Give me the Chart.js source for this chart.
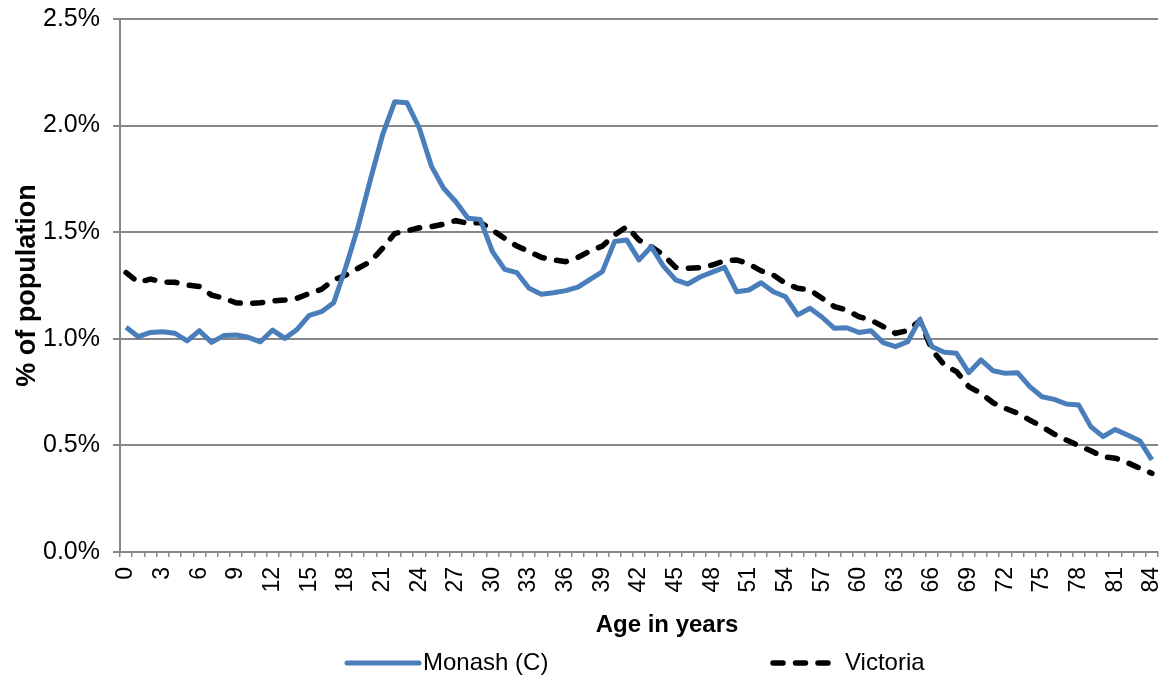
<!DOCTYPE html>
<html>
<head>
<meta charset="utf-8">
<script src="https://cdn.jsdelivr.net/npm/chart.js@4/dist/chart.umd.min.js"></script>
<style>
html,body{margin:0;padding:0;background:#fff;}
#wrap{width:1171px;height:679px;}
</style>
</head>
<body>
<div id="wrap"><canvas id="c" width="1171" height="679"></canvas></div>
<script>
// ---- data ----
const ages = [];
for (let a = 0; a <= 84; a++) ages.push(String(a));

const monash = [
  1.054, 1.010, 1.030, 1.033, 1.026, 0.990, 1.038, 0.983, 1.015, 1.018,
  1.007, 0.986, 1.041, 1.002, 1.044, 1.110, 1.127, 1.169, 1.338, 1.526,
  1.745, 1.956, 2.112, 2.107, 1.990, 1.810, 1.706, 1.643, 1.565, 1.560,
  1.409, 1.326, 1.310, 1.237, 1.209, 1.216, 1.226, 1.242, 1.279, 1.315,
  1.456, 1.463, 1.370, 1.432, 1.341, 1.276, 1.257, 1.290, 1.313, 1.335,
  1.221, 1.229, 1.263, 1.221, 1.197, 1.112, 1.143, 1.101, 1.049, 1.052,
  1.030, 1.038, 0.982, 0.963, 0.986, 1.091, 0.963, 0.937, 0.932, 0.841,
  0.901, 0.850, 0.838, 0.841, 0.776, 0.728, 0.716, 0.694, 0.690, 0.588,
  0.541, 0.575, 0.549, 0.522, 0.432
];

const victoria = [
  1.310, 1.265, 1.280, 1.266, 1.265, 1.252, 1.245, 1.205, 1.190, 1.169,
  1.166, 1.169, 1.177, 1.182, 1.190, 1.213, 1.232, 1.276, 1.299, 1.331,
  1.362, 1.424, 1.494, 1.506, 1.521, 1.526, 1.538, 1.554, 1.542, 1.545,
  1.510, 1.471, 1.435, 1.409, 1.382, 1.370, 1.362, 1.382, 1.412, 1.435,
  1.487, 1.526, 1.463, 1.432, 1.393, 1.335, 1.331, 1.334, 1.346, 1.366,
  1.370, 1.351, 1.319, 1.299, 1.260, 1.237, 1.229, 1.190, 1.151, 1.135,
  1.104, 1.088, 1.057, 1.026, 1.038, 1.085, 0.947, 0.877, 0.846, 0.776,
  0.744, 0.700, 0.674, 0.651, 0.619, 0.588, 0.553, 0.525, 0.499, 0.475,
  0.447, 0.440, 0.419, 0.393, 0.369
];

const seriesNames = ['Monash (C)', 'Victoria'];
const yTicks = [0, 0.5, 1.0, 1.5, 2.0, 2.5];
const xTitle = 'Age in years';
const yTitle = '% of population';

// ---- styling ----
const FONT = '"Liberation Sans", Arial, sans-serif';
const GRID = '#878787';

// custom bottom legend + x-axis title (placed as in the reference)
const legendPlugin = {
  id: 'bottomLegend',
  afterDraw(chart) {
    const ctx = chart.ctx;
    // x-axis title
    ctx.save();
    ctx.fillStyle = '#000';
    ctx.font = 'bold 24px ' + FONT;
    ctx.textAlign = 'center';
    ctx.textBaseline = 'middle';
    ctx.fillText(xTitle, 667, 625);
    ctx.restore();

    const y = 663;
    const items = [
      { x0: 347, x1: 419, tx: 423 },
      { x0: 773, x1: 831, tx: 845 }
    ];
    chart.data.datasets.forEach((ds, i) => {
      const it = items[i];
      ctx.save();
      ctx.strokeStyle = ds.borderColor;
      ctx.lineWidth = ds.borderWidth;
      ctx.lineCap = 'round';
      ctx.setLineDash(ds.borderDash || []);
      ctx.beginPath();
      ctx.moveTo(it.x0, y);
      ctx.lineTo(it.x1, y);
      ctx.stroke();
      ctx.setLineDash([]);
      ctx.fillStyle = '#000';
      ctx.font = '24px ' + FONT;
      ctx.textBaseline = 'middle';
      ctx.textAlign = 'left';
      ctx.fillText(ds.label, it.tx, y);
      ctx.restore();
    });
  }
};

new Chart(document.getElementById('c'), {
  type: 'line',
  data: {
    labels: ages,
    datasets: [
      {
        label: seriesNames[0],
        data: monash,
        borderColor: '#4a7ebb',
        borderWidth: 5,
        pointRadius: 0,
        tension: 0,
        borderJoinStyle: 'round',
        fill: false
      },
      {
        label: seriesNames[1],
        data: victoria,
        borderColor: '#000000',
        borderWidth: 5.5,
        borderDash: [10, 12.5],
        borderCapStyle: 'round',
        pointRadius: 0,
        tension: 0,
        fill: false
      }
    ]
  },
  options: {
    responsive: false,
    animation: false,
    devicePixelRatio: 1,
    layout: { padding: { top: 19, right: 13, bottom: 40, left: 0 } },
    plugins: {
      legend: { display: false },
      tooltip: { enabled: false }
    },
    scales: {
      x: {
        type: 'category',
        offset: true,
        afterFit: (s) => {
          s.height = 87;
          s.paddingLeft = 0; s.paddingRight = 0; s.paddingTop = 0; s.paddingBottom = 0;
        },
        grid: {
          offset: true,
          drawOnChartArea: false,
          drawTicks: true,
          tickLength: 5,
          color: GRID,
          lineWidth: 1.5
        },
        border: { display: true, color: GRID, width: 2 },
        ticks: {
          autoSkip: false,
          maxRotation: 90,
          minRotation: 90,
          padding: 10,
          color: '#000',
          font: { family: FONT, size: 23 },
          callback: function (v, i) { return i % 3 === 0 ? ages[i] : ''; }
        },
        title: { display: false }
      },
      y: {
        min: 0,
        max: 2.5,
        afterFit: (s) => {
          s.width = 120;
          s.paddingLeft = 0; s.paddingRight = 0; s.paddingTop = 0; s.paddingBottom = 0;
        },
        afterBuildTicks: (s) => { s.ticks = yTicks.map(v => ({ value: v })); },
        grid: {
          color: GRID,
          lineWidth: 2,
          tickLength: 7,
          drawTicks: true
        },
        border: { display: true, color: GRID, width: 2 },
        ticks: {
          padding: 13,
          color: '#000',
          font: { family: FONT, size: 25 },
          callback: (v) => Number(v).toFixed(1) + '%'
        },
        title: {
          display: true,
          text: yTitle,
          color: '#000',
          font: { family: FONT, size: 27, weight: 'bold' },
          padding: { top: 11, bottom: 0 }
        }
      }
    }
  },
  plugins: [legendPlugin]
});
</script>
</body>
</html>
